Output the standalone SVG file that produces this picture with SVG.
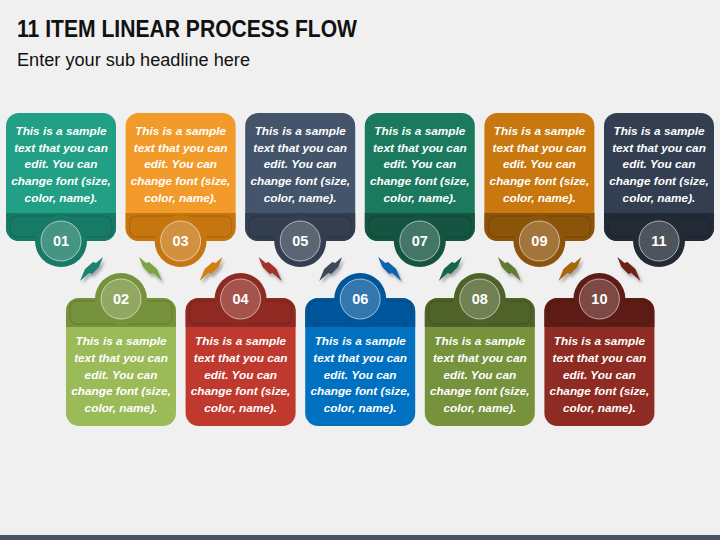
<svg xmlns="http://www.w3.org/2000/svg" xmlns:xlink="http://www.w3.org/1999/xlink" width="720" height="540" viewBox="0 0 720 540">
<defs>
<style>
.title{font-family:"Liberation Sans",Arial,sans-serif;font-weight:bold;font-size:23px;fill:#111}
.sub{font-family:"Liberation Sans",Arial,sans-serif;font-size:17.5px;fill:#111}
.t{font-family:"Liberation Sans",Arial,sans-serif;font-style:italic;font-weight:bold;font-size:11.8px;fill:#fff;text-anchor:middle}
.n{font-family:"Liberation Sans",Arial,sans-serif;font-weight:bold;font-size:14.5px;fill:#fff;text-anchor:middle}
.inset{fill:none;stroke:#000;stroke-opacity:.12;stroke-width:1.3}
.ring{fill:#fff;fill-opacity:.2;stroke:#fff;stroke-opacity:.55;stroke-width:1}
.m1{fill:#21A086}.b1{fill:#177A66}
.m2{fill:#9BBB59}.b2{fill:#76923C}
.m3{fill:#F29B2A}.b3{fill:#C6760F}
.m4{fill:#C0392F}.b4{fill:#8E2A21}
.m5{fill:#44546A}.b5{fill:#333F50}
.m6{fill:#0070C0}.b6{fill:#00569A}
.m7{fill:#1B7A5E}.b7{fill:#145440}
.m8{fill:#76923C}.b8{fill:#4F6228}
.m9{fill:#C8780F}.b9{fill:#8C530A}
.m10{fill:#8E2B22}.b10{fill:#5E1C16}
.m11{fill:#333F50}.b11{fill:#222A36}
</style>
<filter id="sh" x="-50%" y="-50%" width="200%" height="200%">
<feDropShadow dx="2" dy="3" stdDeviation="1.5" flood-color="#000" flood-opacity=".3"/>
</filter>
<path id="arw" d="M0,24 L5,12 L13,5 L16,6 L23,0 L19,10 L12,17 L9,16 Z"/>
</defs>
<rect x="0" y="0" width="720" height="540" fill="#F0F0F0"/>
<rect x="0" y="535" width="720" height="5" fill="#465668"/>
<text class="title" x="17" y="37" textLength="340" lengthAdjust="spacingAndGlyphs">11 ITEM LINEAR PROCESS FLOW</text>
<text class="sub" x="17" y="66" textLength="233" lengthAdjust="spacingAndGlyphs">Enter your sub headline here</text>

<g id="connectors" filter="url(#sh)">
<use xlink:href="#arw" href="#arw" fill="#1A8370" transform="translate(80,257)"/>
<use xlink:href="#arw" href="#arw" fill="#7EA443" transform="translate(162,257) scale(-1,1)"/>
<use xlink:href="#arw" href="#arw" fill="#D17F14" transform="translate(199.6,257)"/>
<use xlink:href="#arw" href="#arw" fill="#A3322A" transform="translate(281.6,257) scale(-1,1)"/>
<use xlink:href="#arw" href="#arw" fill="#3A4859" transform="translate(319.2,257)"/>
<use xlink:href="#arw" href="#arw" fill="#0A63AE" transform="translate(401.2,257) scale(-1,1)"/>
<use xlink:href="#arw" href="#arw" fill="#17654C" transform="translate(438.8,257)"/>
<use xlink:href="#arw" href="#arw" fill="#5E7A30" transform="translate(520.8,257) scale(-1,1)"/>
<use xlink:href="#arw" href="#arw" fill="#A8650D" transform="translate(558.4,257)"/>
<use xlink:href="#arw" href="#arw" fill="#6E2219" transform="translate(640.4,257) scale(-1,1)"/>
</g>

<g id="step-01">
<rect class="m1" x="6" y="113" width="110" height="128" rx="13"/>
<path class="b1" d="M6,213H116V228A13,13 0 0 1 103,241H19A13,13 0 0 1 6,228Z"/>
<rect class="inset" x="10" y="216" width="102" height="21" rx="7"/>
<circle class="b1" cx="61" cy="241" r="26"/>
<circle class="ring" cx="61" cy="241" r="20"/>
<text class="n" x="61" y="246">01</text>
<text class="t"><tspan x="61" y="135">This is a sample</tspan><tspan x="61" y="151.7">text that you can</tspan><tspan x="61" y="168.4">edit. You can</tspan><tspan x="61" y="185">change font (size,</tspan><tspan x="61" y="201.7">color, name).</tspan></text>
</g>

<g id="step-03">
<rect class="m3" x="125.6" y="113" width="110" height="128" rx="13"/>
<path class="b3" d="M125.6,213H235.6V228A13,13 0 0 1 222.6,241H138.6A13,13 0 0 1 125.6,228Z"/>
<rect class="inset" x="129.6" y="216" width="102" height="21" rx="7"/>
<circle class="b3" cx="180.6" cy="241" r="26"/>
<circle class="ring" cx="180.6" cy="241" r="20"/>
<text class="n" x="180.6" y="246">03</text>
<text class="t"><tspan x="180.6" y="135">This is a sample</tspan><tspan x="180.6" y="151.7">text that you can</tspan><tspan x="180.6" y="168.4">edit. You can</tspan><tspan x="180.6" y="185">change font (size,</tspan><tspan x="180.6" y="201.7">color, name).</tspan></text>
</g>

<g id="step-05">
<rect class="m5" x="245.2" y="113" width="110" height="128" rx="13"/>
<path class="b5" d="M245.2,213H355.2V228A13,13 0 0 1 342.2,241H258.2A13,13 0 0 1 245.2,228Z"/>
<rect class="inset" x="249.2" y="216" width="102" height="21" rx="7"/>
<circle class="b5" cx="300.2" cy="241" r="26"/>
<circle class="ring" cx="300.2" cy="241" r="20"/>
<text class="n" x="300.2" y="246">05</text>
<text class="t"><tspan x="300.2" y="135">This is a sample</tspan><tspan x="300.2" y="151.7">text that you can</tspan><tspan x="300.2" y="168.4">edit. You can</tspan><tspan x="300.2" y="185">change font (size,</tspan><tspan x="300.2" y="201.7">color, name).</tspan></text>
</g>

<g id="step-07">
<rect class="m7" x="364.8" y="113" width="110" height="128" rx="13"/>
<path class="b7" d="M364.8,213H474.8V228A13,13 0 0 1 461.8,241H377.8A13,13 0 0 1 364.8,228Z"/>
<rect class="inset" x="368.8" y="216" width="102" height="21" rx="7"/>
<circle class="b7" cx="419.8" cy="241" r="26"/>
<circle class="ring" cx="419.8" cy="241" r="20"/>
<text class="n" x="419.8" y="246">07</text>
<text class="t"><tspan x="419.8" y="135">This is a sample</tspan><tspan x="419.8" y="151.7">text that you can</tspan><tspan x="419.8" y="168.4">edit. You can</tspan><tspan x="419.8" y="185">change font (size,</tspan><tspan x="419.8" y="201.7">color, name).</tspan></text>
</g>

<g id="step-09">
<rect class="m9" x="484.4" y="113" width="110" height="128" rx="13"/>
<path class="b9" d="M484.4,213H594.4V228A13,13 0 0 1 581.4,241H497.4A13,13 0 0 1 484.4,228Z"/>
<rect class="inset" x="488.4" y="216" width="102" height="21" rx="7"/>
<circle class="b9" cx="539.4" cy="241" r="26"/>
<circle class="ring" cx="539.4" cy="241" r="20"/>
<text class="n" x="539.4" y="246">09</text>
<text class="t"><tspan x="539.4" y="135">This is a sample</tspan><tspan x="539.4" y="151.7">text that you can</tspan><tspan x="539.4" y="168.4">edit. You can</tspan><tspan x="539.4" y="185">change font (size,</tspan><tspan x="539.4" y="201.7">color, name).</tspan></text>
</g>

<g id="step-11">
<rect class="m11" x="604" y="113" width="110" height="128" rx="13"/>
<path class="b11" d="M604,213H714V228A13,13 0 0 1 701,241H617A13,13 0 0 1 604,228Z"/>
<rect class="inset" x="608" y="216" width="102" height="21" rx="7"/>
<circle class="b11" cx="659" cy="241" r="26"/>
<circle class="ring" cx="659" cy="241" r="20"/>
<text class="n" x="659" y="246">11</text>
<text class="t"><tspan x="659" y="135">This is a sample</tspan><tspan x="659" y="151.7">text that you can</tspan><tspan x="659" y="168.4">edit. You can</tspan><tspan x="659" y="185">change font (size,</tspan><tspan x="659" y="201.7">color, name).</tspan></text>
</g>

<g id="step-02">
<rect class="m2" x="66" y="298" width="110" height="128" rx="13"/>
<path class="b2" d="M66,327V311A13,13 0 0 1 79,298H163A13,13 0 0 1 176,311V327Z"/>
<rect class="inset" x="70" y="301" width="102" height="23" rx="7"/>
<circle class="b2" cx="121" cy="299" r="26"/>
<circle class="ring" cx="121" cy="299" r="20"/>
<text class="n" x="121" y="304">02</text>
<text class="t"><tspan x="121" y="345">This is a sample</tspan><tspan x="121" y="361.75">text that you can</tspan><tspan x="121" y="378.5">edit. You can</tspan><tspan x="121" y="395.25">change font (size,</tspan><tspan x="121" y="412">color, name).</tspan></text>
</g>

<g id="step-04">
<rect class="m4" x="185.6" y="298" width="110" height="128" rx="13"/>
<path class="b4" d="M185.6,327V311A13,13 0 0 1 198.6,298H282.6A13,13 0 0 1 295.6,311V327Z"/>
<rect class="inset" x="189.6" y="301" width="102" height="23" rx="7"/>
<circle class="b4" cx="240.6" cy="299" r="26"/>
<circle class="ring" cx="240.6" cy="299" r="20"/>
<text class="n" x="240.6" y="304">04</text>
<text class="t"><tspan x="240.6" y="345">This is a sample</tspan><tspan x="240.6" y="361.75">text that you can</tspan><tspan x="240.6" y="378.5">edit. You can</tspan><tspan x="240.6" y="395.25">change font (size,</tspan><tspan x="240.6" y="412">color, name).</tspan></text>
</g>

<g id="step-06">
<rect class="m6" x="305.2" y="298" width="110" height="128" rx="13"/>
<path class="b6" d="M305.2,327V311A13,13 0 0 1 318.2,298H402.2A13,13 0 0 1 415.2,311V327Z"/>
<rect class="inset" x="309.2" y="301" width="102" height="23" rx="7"/>
<circle class="b6" cx="360.2" cy="299" r="26"/>
<circle class="ring" cx="360.2" cy="299" r="20"/>
<text class="n" x="360.2" y="304">06</text>
<text class="t"><tspan x="360.2" y="345">This is a sample</tspan><tspan x="360.2" y="361.75">text that you can</tspan><tspan x="360.2" y="378.5">edit. You can</tspan><tspan x="360.2" y="395.25">change font (size,</tspan><tspan x="360.2" y="412">color, name).</tspan></text>
</g>

<g id="step-08">
<rect class="m8" x="424.8" y="298" width="110" height="128" rx="13"/>
<path class="b8" d="M424.8,327V311A13,13 0 0 1 437.8,298H521.8A13,13 0 0 1 534.8,311V327Z"/>
<rect class="inset" x="428.8" y="301" width="102" height="23" rx="7"/>
<circle class="b8" cx="479.8" cy="299" r="26"/>
<circle class="ring" cx="479.8" cy="299" r="20"/>
<text class="n" x="479.8" y="304">08</text>
<text class="t"><tspan x="479.8" y="345">This is a sample</tspan><tspan x="479.8" y="361.75">text that you can</tspan><tspan x="479.8" y="378.5">edit. You can</tspan><tspan x="479.8" y="395.25">change font (size,</tspan><tspan x="479.8" y="412">color, name).</tspan></text>
</g>

<g id="step-10">
<rect class="m10" x="544.4" y="298" width="110" height="128" rx="13"/>
<path class="b10" d="M544.4,327V311A13,13 0 0 1 557.4,298H641.4A13,13 0 0 1 654.4,311V327Z"/>
<rect class="inset" x="548.4" y="301" width="102" height="23" rx="7"/>
<circle class="b10" cx="599.4" cy="299" r="26"/>
<circle class="ring" cx="599.4" cy="299" r="20"/>
<text class="n" x="599.4" y="304">10</text>
<text class="t"><tspan x="599.4" y="345">This is a sample</tspan><tspan x="599.4" y="361.75">text that you can</tspan><tspan x="599.4" y="378.5">edit. You can</tspan><tspan x="599.4" y="395.25">change font (size,</tspan><tspan x="599.4" y="412">color, name).</tspan></text>
</g>
</svg>
